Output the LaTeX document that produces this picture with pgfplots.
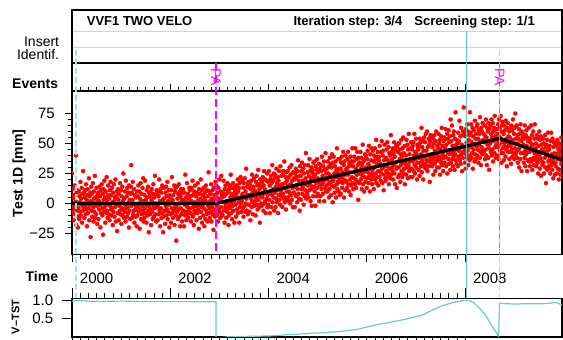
\documentclass[border=0pt]{standalone}
\usepackage{pgfplots}
\pgfplotsset{compat=1.18}
\usepackage{pgfplotstable}
\usepackage{fontspec}
\setmainfont{Liberation Sans}
\definecolor{vtst}{HTML}{66CCCC}
\definecolor{cyanline}{HTML}{5CC8C8}
\definecolor{cyandash}{HTML}{A6E1E1}
\definecolor{mag}{HTML}{FF00FF}
\definecolor{purp}{HTML}{D050F0}
\definecolor{gridgray}{HTML}{D3D3D3}
\newcommand\fs[1]{\fontsize{#1bp}{#1bp}\selectfont}
% test values, 20 per row, evenly spaced in time from 2000.0 to 2009.97
\pgfplotstableread[header=false]{
25 -8 12 -2 5 -14 7 -5 0 15 -9 2 40 -18 9 -3 11 -6 -20 -11
-4 10 -13 6 1 -7 18 -10 4 -1 13 -16 8 -6 27 -3 0 9 -12 5
11 -2 -9 16 -5 3 -19 7 12 -8 0 -4 21 -14 6 -1 9 -28 2 14
-6 8 -11 1 17 -3 -15 10 4 -7 23 -12 5 0 -9 13 -2 -17 7 3
9 -13 2 -5 14 -1 6 -20 11 -8 0 16 -4 -10 8 -26 12 3 -7 19
-3 5 -16 10 0 -8 22 -6 3 -12 7 15 -1 -9 4 -14 11 -2 18 -5
7 -10 13 -4 1 -18 9 -7 16 2 -11 5 -3 20 -15 6 -1 10 -23 4
-8 12 3 -14 8 -2 -6 17 -9 0 11 -17 6 -4 14 -10 2 25 -5 -12
4 -7 10 -1 -15 19 -4 6 -11 13 -3 -8 9 1 -20 15 -6 3 -13 8
14 32 -2 9 -12 3 18 -9 0 -6 12 -16 7 -1 -5 -11 5 -3 -19 10
-10 6 -3 15 -7 0 10 -21 4 -5 17 -13 2 8 -9 -2 13 -6 21 -15
2 -12 7 -4 19 -8 3 -1 -16 11 5 -10 0 14 -6 -24 9 -3 6 -9
-5 9 -18 3 12 -7 1 -13 8 16 -2 -11 5 -4 23 -9 0 7 -15 11
8 -3 -14 10 -1 6 -9 20 -6 2 -19 12 -4 9 -12 1 15 -8 3 -24
-11 4 13 -6 0 -17 9 -2 14 -10 6 -5 18 -13 2 -7 11 -1 -20 7
5 -9 1 -16 11 -4 22 -8 3 -12 7 0 -6 15 -18 10 -3 13 -10 -31
-2 14 -7 4 -13 8 -5 16 -11 0 10 -19 6 -4 12 -9 3 -15 9 -6
12 -6 3 -19 9 -1 -10 24 -7 5 -14 1 17 -3 -9 8 -12 4 -5 13
-7 11 -4 6 -15 2 13 -9 0 19 -11 7 -3 -18 10 -6 1 15 -8 -2
6 -14 9 -2 -8 17 -5 3 -21 12 -1 8 -12 4 20 -7 -3 11 -16 2
-1 7 -10 13 -4 -19 5 9 -13 2 15 -6 -9 11 0 -15 6 -2 26 -8
10 -4 -12 2 8 -7 16 -15 4 -3 11 -9 1 -22 13 -5 7 -11 3 18
-8 6 15 -2 -10 9 1 -15 13 -5 4 20 -7 2 -12 10 -3 23 -9 7
5 -10 9 1 19 -6 6 -16 12 -3 15 0 -12 8 2 -7 17 -4 10 -18
-10 12 -1 15 -4 5 24 -8 8 1 -13 13 -2 17 -6 6 2 -16 14 10
12 -1 -11 8 15 -5 5 20 -8 10 1 13 -16 17 -3 4 22 0 -7 6
2 19 8 -4 13 -11 17 5 -2 21 -7 10 0 29 4 -6 14 7 -9 16
18 -1 13 -7 7 16 -14 12 4 19 -3 24 1 9 -9 14 6 21 -2 11
2 10 -10 18 5 23 -1 15 -5 9 28 3 16 -3 12 -16 20 6 14 0
14 -2 18 5 22 8 -6 15 27 0 12 2 20 -8 9 19 4 25 -3 7
-1 18 9 27 3 15 -8 20 10 23 -3 17 7 32 1 12 19 5 25 -6
21 9 24 -3 14 4 29 1 17 11 22 -8 19 7 27 3 15 -1 31 8
11 23 6 16 -3 24 8 27 4 13 35 1 17 5 22 -5 26 10 19 3
27 5 15 2 22 10 30 8 0 24 16 7 32 3 19 13 -3 26 9 21
9 20 -3 25 14 29 6 22 15 1 27 12 36 8 19 4 23 -6 31 16
23 3 27 12 34 8 19 14 29 -1 25 16 6 32 11 21 42 4 18 9
8 26 15 32 5 23 11 37 16 27 2 21 12 30 -2 28 14 25 6 34
22 14 35 10 24 -2 31 17 28 6 37 13 21 8 26 18 33 2 29 15
6 32 20 27 12 39 16 23 8 31 18 35 2 28 21 13 42 10 25 15
29 20 10 35 16 25 5 31 12 38 18 23 33 7 30 15 41 19 1 34
19 39 14 25 9 31 22 35 5 28 16 46 12 26 18 37 10 29 21 7
37 18 29 8 34 22 39 13 26 17 43 20 32 5 35 24 11 40 19 28
18 29 13 37 24 43 16 31 10 34 26 20 39 7 32 15 35 22 46 17
31 12 35 21 39 26 16 46 20 29 13 37 24 43 18 32 3 38 25 34
17 34 25 43 20 29 38 12 32 23 49 16 35 26 10 37 22 41 18 30
40 28 13 37 21 44 26 33 17 48 23 31 10 41 29 36 20 46 25 16
28 44 23 35 12 40 30 46 20 37 25 53 17 33 39 22 43 27 15 36
39 22 48 27 33 19 43 25 52 29 17 40 30 44 11 36 24 49 31 21
19 38 27 45 31 51 22 36 25 47 16 42 29 40 21 34 57 24 43 30
37 27 46 20 41 32 51 25 39 16 44 34 48 29 13 47 30 43 22 50
30 50 24 37 45 18 41 32 53 27 39 22 46 34 55 25 42 29 48 16
48 33 40 24 53 30 36 49 21 45 32 58 27 41 35 22 46 29 51 36
29 45 22 48 35 51 27 40 58 32 25 43 37 54 30 41 20 49 34 47
45 28 49 38 23 54 34 51 31 41 63 26 47 36 52 20 44 33 55 30
39 51 33 58 29 44 36 60 27 47 40 31 54 35 49 18 52 38 57 34
56 36 31 47 40 54 24 50 38 57 33 44 27 52 35 60 41 30 48 39
36 46 58 30 50 39 53 24 45 34 56 37 63 32 48 41 27 52 38 55
53 34 46 39 62 31 49 44 58 25 54 42 37 61 33 51 41 56 28 70
34 52 42 65 37 48 31 57 39 60 44 28 54 41 76 36 49 33 53 45
50 31 59 39 52 44 69 36 46 56 33 63 41 49 27 57 38 60 43 80
43 59 46 34 56 29 62 41 51 38 66 44 60 32 53 47 57 36 76 40
59 47 66 38 51 42 63 29 56 45 61 49 35 69 41 54 37 58 48 64
40 66 45 54 34 61 49 58 38 72 43 52 32 63 47 60 41 67 44 53
58 43 51 65 37 56 45 70 40 55 32 63 49 60 38 67 46 28 62 50
50 65 43 58 70 40 55 45 67 35 60 52 63 42 73 47 56 38 62 49
62 40 58 47 66 52 37 70 49 63 44 55 73 42 60 34 65 51 68 46
42 58 36 65 48 61 51 39 69 45 54 31 63 47 67 43 56 50 60 37
55 43 62 48 33 65 45 61 39 53 70 42 50 58 37 63 46 75 41 54
43 65 38 50 57 34 54 45 62 30 58 47 37 66 42 52 27 60 48 55
58 42 49 34 54 38 65 44 31 57 41 61 48 27 55 36 52 43 63 35
43 54 31 51 37 65 35 48 57 28 49 44 60 38 32 54 42 66 36 46
50 31 39 57 42 34 54 25 48 37 60 41 29 53 38 56 23 49 35 45
32 45 54 34 50 25 43 38 57 30 47 17 49 40 53 28 44 59 35 31
45 30 48 38 25 52 35 59 32 41 28 54 37 21 47 51 34 42 24 49
34 51 31 48 25 41 53 29 37 45 20 43 50 28 40 24 47 33 55 35
}\testdata
\begin{document}
\begin{tikzpicture}
\useasboundingbox (0,0) rectangle (563bp,340bp);
% header frame
\draw[gridgray, line width=0.8bp] (72bp,308.3bp) -- (562bp,308.3bp);
\draw[gridgray, line width=0.8bp] (72bp,292.7bp) -- (562bp,292.7bp);
\draw[line width=1.6bp] (72bp,249bp) |- (562bp,330bp) -- (562bp,249bp);
\draw[line width=1.6bp] (72bp,277bp) -- (562bp,277bp);
\node[anchor=base west, inner sep=0pt, font=\fs{13}\bfseries] at (86.7bp,314.6bp) {VVF1 TWO VELO};
\node[anchor=base west, inner sep=0pt, font=\fs{13}\bfseries] at (293.3bp,314.3bp) {Iteration step: 3/4};
\node[anchor=base east, inner sep=0pt, font=\fs{13}\bfseries] at (535bp,314.3bp) {Screening step: 1/1};
\node[anchor=base east, inner sep=0pt, font=\fs{14}] at (59.3bp,293.3bp) {Insert};
\node[anchor=base east, inner sep=0pt, font=\fs{14}] at (59.3bp,280bp) {Identif.};
\node[anchor=base east, inner sep=0pt, font=\fs{14}\bfseries] at (58.3bp,251bp) {Events};
\node[anchor=base east, inner sep=0pt, font=\fs{14}\bfseries] at (58.3bp,58.3bp) {Time};
\node[rotate=90, inner sep=0pt, font=\fs{14}\bfseries] at (19bp,166.7bp) {Test 1D [mm]};
\node[rotate=90, inner sep=0pt, font=\fs{11}\bfseries] at (15.5bp,23bp) {V–TST};

% main panel
\begin{axis}[at={(72bp,85.3bp)}, anchor=south west, scale only axis,
  width=490bp, height=163.4bp,
  xmin=2000, xmax=2009.97, ymin=-42.7, ymax=93.5,
  axis line style={line width=1.6bp},
  tick align=outside, xtick pos=both, ytick pos=left, xticklabel pos=lower,
  xtick={2000,2002,2004,2006,2008}, xticklabels={2000,2002,2004,2006,2008},
  minor x tick num=11,
  ytick={-25,0,25,50,75}, yticklabels={−25,0,25,50,75},
  minor y tick num=4,
  major tick length=7bp, minor tick length=4bp,
  every tick/.style={black, line width=0.8bp},
  xticklabel style={font=\fs{15}, anchor=base, inner sep=0pt, xshift=24.6bp, yshift=-21.6bp},
  yticklabel style={font=\fs{15}, anchor=east, inner sep=0pt, xshift=-10bp},
  clip=true, clip marker paths=true]
\addplot[gridgray, line width=0.8bp] coordinates {(2000,0) (2009.97,0)};
\pgfplotsinvokeforeach{0,...,19}{
  \addplot[only marks, mark=*, mark size=2bp, red, mark options={fill=red, draw=red}]
    table[x expr={2000+(\coordindex*20+#1)*0.006647}, y index=#1] {\testdata};
}
\addplot[black, line width=3.4bp] coordinates {(2000,0) (2002.93,0) (2008.70,54.3) (2009.97,36.4)};
\end{axis}

% V-TST panel
\begin{axis}[at={(72bp,3.3bp)}, anchor=south west, scale only axis,
  width=490bp, height=38.4bp,
  xmin=2000, xmax=2009.97, ymin=0, ymax=1.046,
  axis line style={line width=1.6bp},
  tick align=outside, xtick pos=both, ytick pos=left,
  xtick={2000,2002,2004,2006,2008}, xticklabels={},
  minor x tick num=11,
  ytick={0.5,1}, yticklabels={0.5,1.0},
  major tick length=10bp, minor tick length=5bp,
  every tick/.style={black, line width=0.8bp},
  yticklabel style={font=\fs{15}, anchor=east, inner sep=0pt, xshift=-8.7bp},
  clip=true]
\addplot[vtst, line width=1.2bp] coordinates {
(2000.0,0.97) (2000.1,0.99) (2000.3,0.97) (2000.6,0.96) (2001.0,0.97) (2001.5,0.96)
(2002.0,0.955) (2002.4,0.955) (2002.93,0.95) (2002.93,-0.05) (2003.18,0.0) (2003.6,0.01)
(2004.03,0.02) (2004.44,0.06) (2004.98,0.10) (2005.45,0.14) (2005.8,0.20) (2006.12,0.30)
(2006.46,0.39) (2006.80,0.48) (2007.14,0.59) (2007.34,0.73) (2007.55,0.85) (2007.75,0.93)
(2007.96,0.98) (2008.06,0.99) (2008.16,0.94) (2008.30,0.77) (2008.43,0.55) (2008.53,0.32)
(2008.63,0.12) (2008.68,0.0) (2008.70,0.91) (2008.8,0.90) (2009.0,0.89) (2009.3,0.90)
(2009.6,0.90) (2009.85,0.93) (2009.92,0.89) (2009.97,0.86)};
\end{axis}

% event lines across panels
\begin{axis}[at={(72bp,0bp)}, anchor=south west, scale only axis,
  width=490bp, height=340bp, xmin=2000, xmax=2009.97, ymin=0, ymax=340,
  hide axis, clip=false]
\addplot[cyandash, line width=1.3bp, dash pattern=on 6bp off 3bp] coordinates {(2000.08,290) (2000.08,41.7)};
\addplot[cyanline, line width=1bp] coordinates {(2008.02,308.3) (2008.02,41.7)};
\addplot[cyandash, line width=1.3bp, dash pattern=on 6bp off 3bp] coordinates {(2008.70,290) (2008.70,41.7)};
\addplot[mag, line width=1.3bp, dash pattern=on 8bp off 4bp] coordinates {(2002.93,277) (2002.93,85.3)};
\addplot[purp, line width=1.4bp, dash pattern=on 5bp off 4bp] coordinates {(2008.70,277) (2008.70,85.3)};
\node[rotate=-90, mag, inner sep=0pt, font=\fs{14}] at (axis cs:2002.93,263) {PA};
\node[rotate=-90, mag, inner sep=0pt, font=\fs{14}] at (axis cs:2008.70,263) {PA};
\end{axis}
\end{tikzpicture}
\end{document}
